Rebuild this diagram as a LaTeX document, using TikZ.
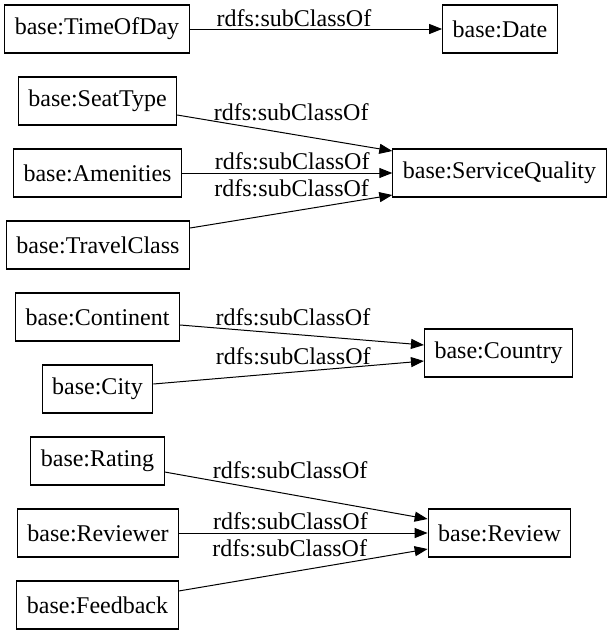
\documentclass[tikz,border=0pt]{standalone}
\usepackage{fontspec}
\setmainfont{Liberation Serif}
\usetikzlibrary{arrows.meta}

\begin{document}
\begin{tikzpicture}[x=1pt, y=-1pt, line width=1pt,
  cls/.style={rectangle, draw=black, line width=1.1pt, minimum height=48pt, inner xsep=10pt, font=\fontsize{24}{28}\selectfont},
  sub/.style={-{Triangle[length=13pt, width=10pt]}},
  lbl/.style={font=\fontsize{24}{28}\selectfont, inner sep=0pt}]
\useasboundingbox (0,0) rectangle (612,635);

\node[cls] (tod) at (97,29) {base:TimeOfDay};
\node[cls] (date) at (500,29) {base:Date};

\node[cls] (seat) at (97.5,101) {base:SeatType};
\node[cls] (amen) at (97.5,173) {base:Amenities};
\node[cls] (tclass) at (98,245) {base:TravelClass};
\node[cls] (squal) at (499.5,173) {base:ServiceQuality};

\node[cls] (cont) at (97.5,317) {base:Continent};
\node[cls] (city) at (97.5,389) {base:City};
\node[cls] (country) at (498.5,353) {base:Country};

\node[cls] (rating) at (97.5,461) {base:Rating};
\node[cls] (reviewer) at (98,533) {base:Reviewer};
\node[cls] (feedback) at (97.5,605) {base:Feedback};
\node[cls] (review) at (499.5,533) {base:Review};

\draw[sub] (tod) --node[lbl, pos=.413, yshift=11pt]{rdfs:subClassOf} (date);

\draw[sub] ([yshift=-14pt]seat.east) --node[lbl, pos=.53, yshift=22pt]{rdfs:subClassOf} ([yshift=22pt]squal.west);
\draw[sub] (amen) --node[lbl, pos=.524, yshift=12pt]{rdfs:subClassOf} (squal);
\draw[sub] ([yshift=17pt]tclass.east) --node[lbl, pos=.502, yshift=23.4pt]{rdfs:subClassOf} ([yshift=-22pt]squal.west);

\draw[sub] ([yshift=-8pt]cont.east) --node[lbl, pos=.463, yshift=17.3pt]{rdfs:subClassOf} ([yshift=8pt]country.west);
\draw[sub] ([yshift=5pt]city.east) --node[lbl, pos=.517, yshift=16.1pt]{rdfs:subClassOf} ([yshift=-8pt]country.west);

\draw[sub] ([yshift=-11pt]rating.east) --node[lbl, pos=.477, yshift=24.4pt]{rdfs:subClassOf} ([yshift=14pt]review.west);
\draw[sub] (reviewer) --node[lbl, pos=.448, yshift=12pt]{rdfs:subClassOf} (review);
\draw[sub] ([yshift=14pt]feedback.east) --node[lbl, pos=.446, yshift=24.3pt]{rdfs:subClassOf} ([yshift=-16pt]review.west);
\end{tikzpicture}
\end{document}
